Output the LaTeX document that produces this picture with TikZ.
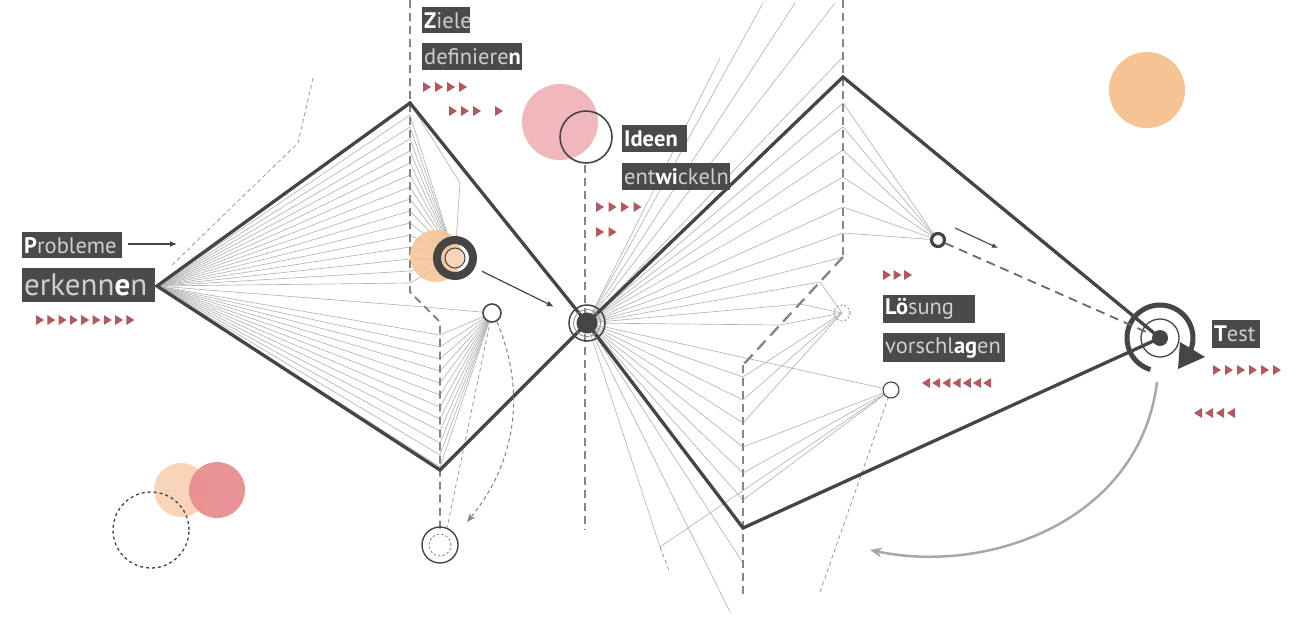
\documentclass[tikz,border=0pt]{standalone}
\usepackage{fontspec}
\setmainfont{PT Sans}
\usetikzlibrary{arrows.meta,calc}
\definecolor{dark}{HTML}{454545}
\definecolor{dashgray}{HTML}{858585}
\definecolor{fangray}{HTML}{B4B4B4}
\definecolor{boxgray}{HTML}{4A4A4A}
\definecolor{txtgray}{HTML}{CFCFCF}
\definecolor{pinkc}{HTML}{F0B8BC}
\definecolor{orangec}{HTML}{F6C393}
\definecolor{orangel}{HTML}{F8D4B8}
\definecolor{redc}{HTML}{E98A8F}
\definecolor{trired}{HTML}{B3585D}
\definecolor{arcgray}{HTML}{A8A8A8}
\newcommand{\hl}[1]{{\bfseries\color{white}#1}}
\begin{document}
\begin{tikzpicture}[x=1pt,y=-1pt,
  fan/.style={draw=fangray, line width=0.65pt},
  thickline/.style={draw=dark, line width=3.3pt, line join=miter},
  dashv/.style={draw=dashgray, line width=1.9pt, dash pattern=on 8pt off 5pt},
  thindash/.style={draw=fangray!85!black, line width=0.8pt, dash pattern=on 4pt off 3pt},
  lbl/.style={fill=boxgray, text=txtgray, inner xsep=2pt, inner ysep=0pt, anchor=north west, align=left, font=\fontsize{22.5pt}{22.5pt}\selectfont},
  arr/.style={draw=dark, line width=1.2pt, -{Latex[length=7pt,width=6pt]}},
  tri/.style={fill=trired}
]
\useasboundingbox (0,0) rectangle (1303,619);
\fill[white] (0,0) rectangle (1303,619);

% key points
\coordinate (L) at (157,286);
\coordinate (LT) at (410,103);
\coordinate (LB) at (440,470);
\coordinate (M) at (587,323);
\coordinate (RT) at (843,77);
\coordinate (RB) at (743,528);
\coordinate (T) at (1160,338);
\coordinate (A) at (455,258);
\coordinate (B) at (492,313);
\coordinate (C) at (938,240);
\coordinate (D) at (891,390);
\coordinate (E) at (842,313);
\coordinate (F) at (440,545);

% ---- fans, left diamond
\foreach \y in {115,127,...,283}
  \draw[fan] (L) -- (410,\y) -- (A);
\draw[fan] (L) -- (425,307) -- (B);
\foreach \y in {335,347,...,467}
  \draw[fan] (L) -- (440,\y) -- (B);
\draw[fan] (LT) -- (460,183) -- (A);

% ---- fans, right part
\foreach \p in {(720,58),(763,3),(795,3),(835,3),(843,57)}
  \draw[fan] (M) -- \p;
\foreach \y in {103,127,150,177,207,233}
  \draw[fan] (M) -- (843,\y) -- (C);
\draw[fan] (M) -- (843,257);
\foreach \p in {(820,282),(800,304),(780,325)}
  \draw[fan] (M) -- \p -- (E);
\foreach \y in {377,400,423}
  \draw[fan] (M) -- (743,\y) -- (E);
\foreach \y in {447,473,500}
  \draw[fan] (M) -- (743,\y) -- (D);
\draw[fan] (M) -- (D);
\draw[fan] (M) -- (743,563);
\draw[fan] (M) -- (730,612);
\coordinate (G) at (660,547);
\draw[fan] (M) -- (G) -- (D);
\draw[thindash] (G) -- (670,573);
\draw[thindash] (D) -- (820,592);

% ---- thin dashed lines left
\draw[thindash] (313,78) -- (298,143) -- (170,267);
\draw[thindash] (B) -- (447,528);

% ---- dashed verticals
\draw[dashv] (410,0) -- (410,292) -- (440,322) -- (440,530);
\draw[dashv] (585,165) -- (585,530);
\draw[dashv] (843,0) -- (843,257);
\draw[draw=dashgray, line width=2.3pt, dash pattern=on 12pt off 7pt] (843,257) -- (743,365);
\draw[dashv] (743,365) -- (743,598);

% ---- thick outlines
\draw[thickline] (L) -- (LT) -- (M) -- (LB) -- cycle;
\draw[thickline] (M) -- (RT) -- (T);
\draw[thickline] (M) -- (RB) -- (T);

% ---- decorative circles
\fill[orangec] (1147,90) circle[radius=38pt];
\fill[pinkc] (560,122) circle[radius=38pt];
\draw[dark, line width=1.6pt] (586,137) circle[radius=26pt];
\fill[orangel] (181,490) circle[radius=27pt];
\fill[redc, opacity=0.92] (217,490) circle[radius=28pt];
\draw[dark, line width=1.3pt, dash pattern=on 3pt off 3pt] (151,530) circle[radius=38pt];

% ---- node A
\fill[orangec, opacity=0.85] (436,256) circle[radius=26pt];
\draw[dark, line width=8pt] (A) circle[radius=18pt];
\fill[orangel] (A) circle[radius=9pt];
\draw[dark, line width=1pt] (A) circle[radius=10pt];

% ---- node B, D, E, F, C
\draw[dark, line width=1.6pt, fill=white] (B) circle[radius=9pt];
\draw[dark, line width=1.1pt, fill=white] (D) circle[radius=8pt];
\draw[dashgray, line width=0.8pt, dash pattern=on 2pt off 2pt] (E) circle[radius=8pt];
\draw[dark, line width=1.4pt] (F) circle[radius=18pt];
\draw[dashgray, line width=0.8pt, dash pattern=on 2.5pt off 2pt] (F) circle[radius=11pt];
\draw[dark, line width=3.2pt, fill=white] (C) circle[radius=6.5pt];

% ---- central node M
\draw[dark, line width=1.5pt] (M) circle[radius=18pt];
\draw[dark!60, line width=0.8pt] (M) circle[radius=13.5pt];
\fill[dark] (M) circle[radius=10.5pt];

% ---- target T
\draw[dark, line width=1.3pt] (T) circle[radius=19pt];
\fill[dark] (T) circle[radius=8pt];
\draw[dark, line width=5pt] ($(T)+(253:33pt)$) arc[start angle=253, end angle=-30, radius=33pt];
\fill[dark] (1180,342) -- (1205,357) -- (1178,369) -- cycle;

% ---- connectors
\coordinate (pa) at (128,244);
\coordinate (pb) at (177,244);
\draw[arr] (pa) -- (pb);
\draw[arr, shorten <=30pt, shorten >=37pt] (A) -- (M);
\coordinate (ca) at (955,228);
\coordinate (cb) at (998,248);
\draw[draw=dark, line width=1.1pt, -{Latex[length=6pt,width=5pt]}] (ca) -- (cb);
\draw[draw=dashgray!80!black, line width=1.8pt, dash pattern=on 9pt off 6pt, shorten <=8pt, shorten >=12pt] (C) -- (T);
\draw[draw=dashgray, line width=1pt, dash pattern=on 4pt off 3pt, -{Stealth[length=9pt,width=7pt]}] (497,322) .. controls (530,400) and (510,470) .. (467,522);
\coordinate (ga) at (1157,382);
\coordinate (gb) at (870,550);
\draw[draw=arcgray, line width=2.5pt, -{Stealth[length=12pt,width=10pt]}] (ga) .. controls (1140,520) and (990,575) .. (gb);

% ---- labels
\node[lbl, text width=96pt, minimum height=26pt] (probleme) at (22,232) {\hl{P}robleme};
\node[lbl, text width=129pt, minimum height=34pt, font=\fontsize{31pt}{31pt}\selectfont] (erkennen) at (22,268) {erkenn\hl{e}n};
\node[lbl, text width=44pt, minimum height=26pt] (ziele) at (422,7) {\hl{Z}iele};
\node[lbl, text width=96pt, minimum height=27pt] (definieren) at (422,43) {definiere\hl{n}};
\node[lbl, text width=61pt, minimum height=27pt] (ideen) at (622,125) {\hl{Ideen}};
\node[lbl, text width=104pt, minimum height=27pt] (entwickeln) at (622,163) {ent\hl{wi}ckeln};
\node[lbl, text width=88pt, minimum height=28pt] (loesung) at (883,295) {\hl{Lö}sung};
\node[lbl, text width=118pt, minimum height=29pt] (vorschlagen) at (883,333) {vorschl\hl{ag}en};
\node[lbl, text width=44pt, minimum height=28pt] (test) at (1212,320) {\hl{T}est};

% ---- red triangles
\foreach \i in {0,...,8} \fill[tri] ({36+\i*11.3},315) -- ++(0,10) -- ++(8,-5) -- cycle;
\foreach \i in {0,...,3} \fill[tri] ({423+\i*12},82) -- ++(0,10) -- ++(8,-5) -- cycle;
\foreach \i in {0,...,2} \fill[tri] ({449+\i*12},106) -- ++(0,10) -- ++(8,-5) -- cycle;
\fill[tri] (495,106) -- ++(0,10) -- ++(8,-5) -- cycle;
\foreach \i in {0,...,3} \fill[tri] ({596+\i*12.5},202) -- ++(0,10) -- ++(8,-5) -- cycle;
\foreach \i in {0,...,1} \fill[tri] ({596+\i*12.5},227) -- ++(0,10) -- ++(8,-5) -- cycle;
\foreach \i in {0,...,2} \fill[tri] ({883+\i*10.5},270) -- ++(0,10) -- ++(8,-5) -- cycle;
\foreach \i in {0,...,6} \fill[tri] ({930+\i*10.2},378) -- ++(0,10) -- ++(-8,-5) -- cycle;
\foreach \i in {0,...,5} \fill[tri] ({1213+\i*12},365) -- ++(0,10) -- ++(8,-5) -- cycle;
\foreach \i in {0,...,3} \fill[tri] ({1202+\i*11},408) -- ++(0,10) -- ++(-8,-5) -- cycle;
\end{tikzpicture}
\end{document}
